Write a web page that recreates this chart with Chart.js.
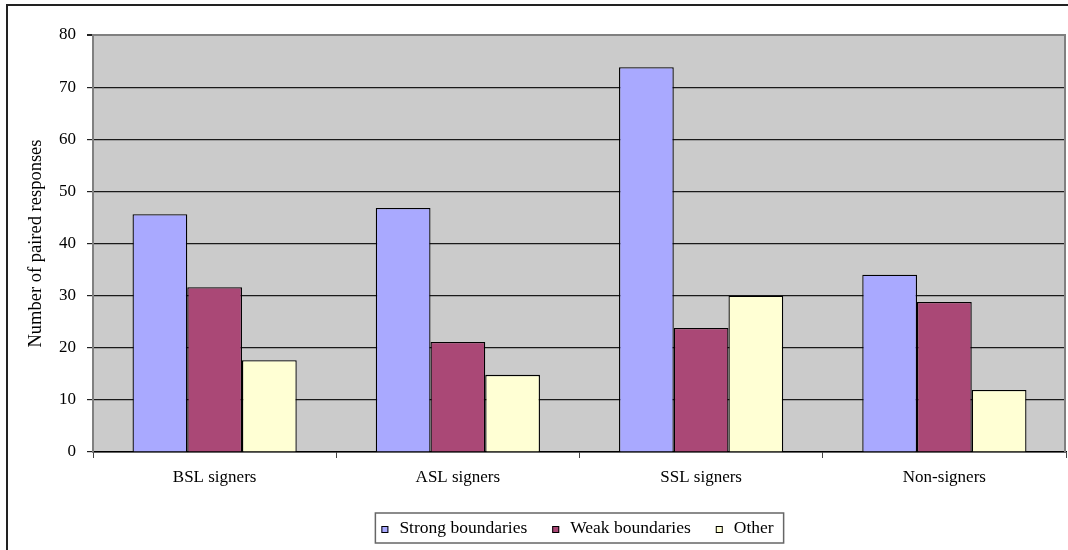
<!DOCTYPE html>
<html>
<head>
<meta charset="utf-8">
<title>Number of paired responses</title>
<script src="https://cdn.jsdelivr.net/npm/chart.js@4.4.1/dist/chart.umd.min.js"></script>
<style>
  html, body { margin: 0; padding: 0; background: #fff; }
  #wrap { width: 1068px; height: 550px; position: relative; }
</style>
</head>
<body>
<div id="wrap"><canvas id="boundariesChart"></canvas></div>
<script>
// Datos del gráfico
const categorias = ["BSL signers", "ASL signers", "SSL signers", "Non-signers"];
const strongBoundaries = [45.6, 46.8, 73.8, 34.0];
const weakBoundaries = [31.6, 21.1, 23.8, 28.8];
const otherResp = [17.6, 14.8, 30.0, 11.9];
const yTicks = [0, 10, 20, 30, 40, 50, 60, 70, 80];

const FONT = "'Liberation Serif', 'Times New Roman', serif";

document.addEventListener("DOMContentLoaded", function () {
  const canvas = document.getElementById("boundariesChart");
  const ctx = canvas.getContext("2d");

  // Fondo, marco y área gris del gráfico
  const fondoPlugin = {
    id: "fondo",
    beforeDraw(chart) {
      const c = chart.ctx;
      const a = chart.chartArea;
      c.save();
      c.fillStyle = "#fff";
      c.fillRect(0, 0, chart.width, chart.height);
      c.strokeStyle = "#222";
      c.lineWidth = 2;
      c.beginPath();
      c.moveTo(7, chart.height);
      c.lineTo(7, 5);
      c.lineTo(chart.width, 5);
      c.stroke();
      c.fillStyle = "#CBCBCB";
      c.fillRect(a.left, a.top, a.right - a.left, a.bottom - a.top);
      c.restore();
    },
    afterDatasetsDraw(chart) {
      const c = chart.ctx;
      const a = chart.chartArea;
      c.save();
      c.strokeStyle = "#808080";
      c.lineWidth = 2;
      c.beginPath();
      c.moveTo(a.right - 1, a.top);
      c.lineTo(a.right - 1, a.bottom);
      c.stroke();
      c.restore();
    }
  };

  // Leyenda con recuadro, centrada bajo el área del gráfico
  const leyendaPlugin = {
    id: "leyenda",
    afterDraw(chart) {
      const c = chart.ctx;
      const a = chart.chartArea;
      const sets = chart.data.datasets;
      c.save();
      c.font = "17.5px " + FONT;
      c.textBaseline = "middle";
      const box = 7, gapText = 11, gapItem = 25;
      const widths = sets.map(ds => box + gapText + c.measureText(ds.label).width);
      const total = widths.reduce((s, w) => s + w, 0) + gapItem * (sets.length - 1);
      const cy = 528;
      let x = (a.left + a.right) / 2 - total / 2 - 2;
      c.strokeStyle = "#666";
      c.lineWidth = 1.5;
      c.strokeRect(x - 6, 513, total + 16, 30);
      sets.forEach((ds, i) => {
        c.fillStyle = ds.backgroundColor;
        c.fillRect(x, cy - 2, box, box);
        c.strokeStyle = "#000";
        c.lineWidth = 1;
        c.strokeRect(x + 0.5, cy - 1.5, box - 1, box - 1);
        c.fillStyle = "#000";
        c.fillText(ds.label, x + box + gapText, cy);
        x += widths[i] + gapItem;
      });
      c.restore();
    }
  };

  new Chart(ctx, {
    type: "bar",
    data: {
      labels: categorias,
      datasets: [
        { label: "Strong boundaries", data: strongBoundaries, backgroundColor: "#A9A9FF" },
        { label: "Weak boundaries", data: weakBoundaries, backgroundColor: "#AA4876" },
        { label: "Other", data: otherResp, backgroundColor: "#FFFFD4" }
      ]
    },
    options: {
      responsive: true,
      maintainAspectRatio: false,
      animation: false,
      layout: { padding: { left: 0, right: 2, top: 35, bottom: 0 } },
      datasets: {
        bar: {
          borderColor: "#000",
          borderWidth: 1.3,
          categoryPercentage: 0.675,
          barPercentage: 1
        }
      },
      plugins: {
        legend: { display: false },
        tooltip: { enabled: false }
      },
      scales: {
        x: {
          grid: {
            offset: true,
            drawOnChartArea: false,
            drawTicks: true,
            tickLength: 6,
            tickColor: "#444"
          },
          border: { color: "#000", width: 1.5 },
          ticks: { color: "#000", font: { family: FONT, size: 17 }, padding: 9, maxRotation: 0 },
          afterFit(scale) { scale.height = 98; }
        },
        y: {
          min: 0,
          max: 80,
          afterBuildTicks(scale) { scale.ticks = yTicks.map(v => ({ value: v })); },
          grid: {
            color: c => (c.tick && c.tick.value === 80 ? "#808080" : "#1a1a1a"),
            lineWidth: c => (c.tick && c.tick.value === 80 ? 2 : 1.2),
            drawTicks: true,
            tickLength: 6,
            tickColor: "#222"
          },
          border: { color: "#808080", width: 2 },
          ticks: { color: "#000", font: { family: FONT, size: 17 }, padding: 11 },
          title: {
            display: true,
            text: "Number of paired responses",
            color: "#000",
            font: { family: FONT, size: 18.5 },
            padding: { top: 25, bottom: 0 }
          },
          afterFit(scale) { scale.width = 93; }
        }
      }
    },
    plugins: [fondoPlugin, leyendaPlugin]
  });
});
</script>
</body>
</html>
